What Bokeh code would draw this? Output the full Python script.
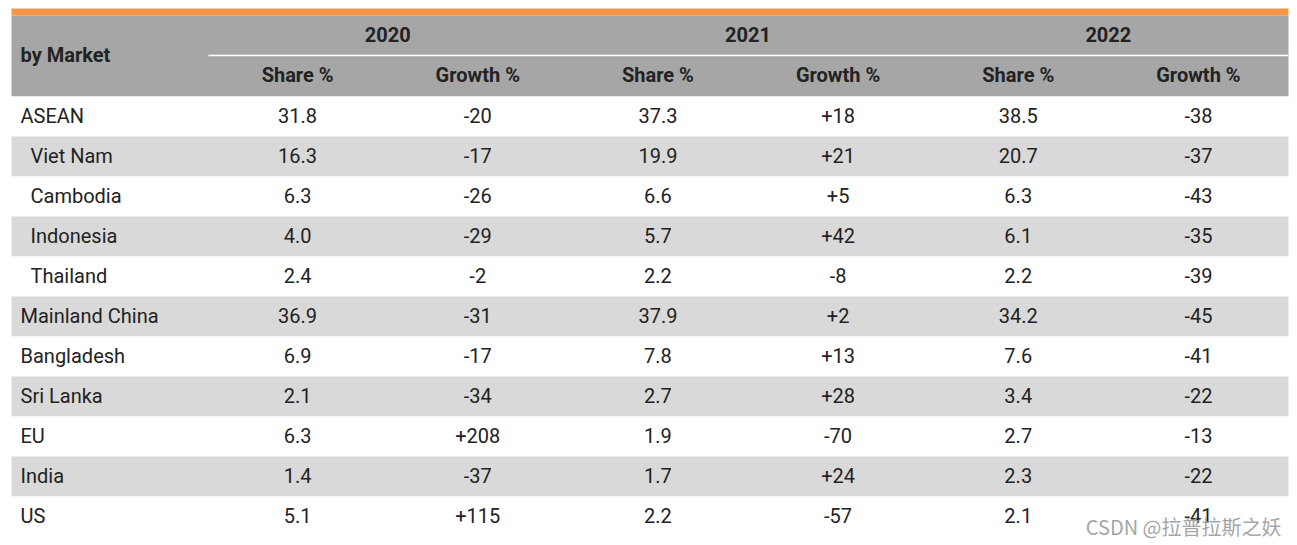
from bokeh.plotting import figure
from bokeh.models import Range1d
from bokeh.core.properties import value
from bokeh.embed import file_html
from bokeh.resources import INLINE

years = ["2020", "2021", "2022"]
sub_headers = ["Share %", "Growth %"]
markets = ["ASEAN", "Viet Nam", "Cambodia", "Indonesia", "Thailand", "Mainland China",
           "Bangladesh", "Sri Lanka", "EU", "India", "US"]
indented = [False, True, True, True, True, False, False, False, False, False, False]
share_2020 = ["31.8", "16.3", "6.3", "4.0", "2.4", "36.9", "6.9", "2.1", "6.3", "1.4", "5.1"]
growth_2020 = ["-20", "-17", "-26", "-29", "-2", "-31", "-17", "-34", "+208", "-37", "+115"]
share_2021 = ["37.3", "19.9", "6.6", "5.7", "2.2", "37.9", "7.8", "2.7", "1.9", "1.7", "2.2"]
growth_2021 = ["+18", "+21", "+5", "+42", "-8", "+2", "+13", "+28", "-70", "+24", "-57"]
share_2022 = ["38.5", "20.7", "6.3", "6.1", "2.2", "34.2", "7.6", "3.4", "2.7", "2.3", "2.1"]
growth_2022 = ["-38", "-37", "-43", "-35", "-39", "-45", "-41", "-22", "-13", "-22", "-41"]
watermark = "CSDN @拉普拉斯之妖"

W, H = 1297, 545
p = figure(width=W, height=H, output_backend="svg", toolbar_location=None,
           x_range=Range1d(0, W), y_range=Range1d(H, 0), min_border=0,
           outline_line_color=None, background_fill_color="white", border_fill_color="white")
p.axis.visible = False
p.grid.visible = False

left, right = 11, 1288
label_w = 196
col_w = (right - left - label_w) / 6
top_orange, top_head, head_mid, head_bot = 8, 15, 55, 96
row_h = 40

FONT = value("Roboto")
TXT = "#222222"
FS = "20px"

# orange top bar and header background
p.quad(left=[left], right=[right], top=[top_orange], bottom=[top_head], fill_color="#F79646", line_color=None)
p.quad(left=[left], right=[right], top=[top_head], bottom=[head_bot], fill_color="#A6A6A6", line_color=None)
p.segment(x0=[left + label_w + 1], x1=[right], y0=[head_mid], y1=[head_mid], line_color="white", line_width=1.5)

# body rows
n = len(markets)
tops = [head_bot + i * row_h for i in range(n)]
bots = [t + row_h for t in tops]
fills = ["white" if i % 2 == 0 else "#D9D9D9" for i in range(n)]
p.quad(left=[left] * n, right=[right] * n, top=tops, bottom=bots, fill_color=fills, line_color=None)

# header texts
p.text(x=[left + 9], y=[(top_head + head_bot) / 2 - 1], text=["by Market"], text_font=FONT, text_font_style="bold",
       text_font_size=FS, text_color=TXT, text_baseline="middle", text_align="left")
ycx = [left + label_w + col_w * (2 * i + 1) for i in range(3)]
p.text(x=ycx, y=[(top_head + head_mid) / 2 - 1] * 3, text=years, text_font=FONT, text_font_style="bold",
       text_font_size=FS, text_color=TXT, text_baseline="middle", text_align="center")
scx = [left + label_w + col_w * (j + 0.5) for j in range(6)]
p.text(x=scx, y=[(head_mid + head_bot) / 2 - 1] * 6, text=sub_headers * 3, text_font=FONT,
       text_font_style="bold", text_font_size=FS, text_color=TXT, text_baseline="middle", text_align="center")

# body texts
ymid = [t + row_h / 2 - 1 for t in tops]
lx = [left + (19 if ind else 9) for ind in indented]
p.text(x=lx, y=ymid, text=markets, text_font=FONT, text_font_size=FS, text_color=TXT,
       text_baseline="middle", text_align="left")
cols = [share_2020, growth_2020, share_2021, growth_2021, share_2022, growth_2022]
for j, col in enumerate(cols):
    p.text(x=[scx[j]] * n, y=ymid, text=col, text_font=FONT, text_font_size=FS, text_color=TXT,
           text_baseline="middle", text_align="center")

# watermark
p.text(x=[right - 7], y=[bots[-1] - 10], text=[watermark], text_font=value("Noto Sans CJK SC"),
       text_font_size="20px", text_color="#9A9A9A", text_alpha=0.9, text_baseline="middle", text_align="right")

open("out.html", "w").write(file_html(p, INLINE))
